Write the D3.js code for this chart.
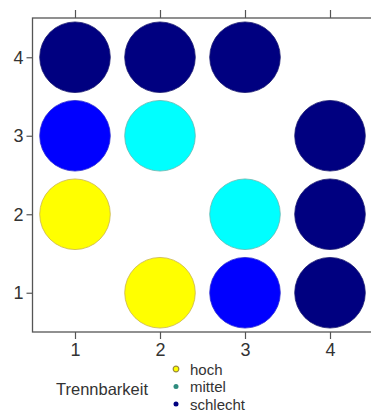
<!DOCTYPE html>
<html><head><meta charset="utf-8">
<script src="https://cdn.jsdelivr.net/npm/d3@7"></script>
<style>body{margin:0;background:#fff;} svg{display:block;font-family:"Liberation Sans",Arial,sans-serif;}</style>
</head><body>
<svg id="c" width="371" height="411"></svg>
<script>
const xTicks = [1, 2, 3, 4];
const yTicks = [1, 2, 3, 4];
const pointX = [1, 2, 3, 1, 2, 4, 1, 3, 4, 2, 3, 4];
const pointY = [4, 4, 4, 3, 3, 3, 2, 2, 2, 1, 1, 1];
const pointCol = ["#000080","#000080","#000080","#0000ff","#00ffff","#000080","#ffff00","#00ffff","#000080","#ffff00","#0000ff","#000080"];
const legendLabels = ["hoch", "mittel", "schlecht"];
const legendColors = ["#ffff00", "#2e8b7e", "#000080"];
const legendTitle = "Trennbarkeit";

const svg = d3.select("#c");
const x = d3.scaleLinear().domain([0.5, 4.5]).range([32.5, 372.5]);
const y = d3.scaleLinear().domain([0.5, 4.5]).range([332, 18]);
const strokeFor = c => c === "#ffff00" ? "#c9b44c" : c === "#00ffff" ? "#62b8b0" : c === "#0000ff" ? "#2a2ad0" : "#1a1a70";

svg.selectAll("circle.pt").data(pointX.map((d,i)=>({x:d,y:pointY[i],c:pointCol[i]})))
  .enter().append("circle").attr("class","pt")
  .attr("cx", d=>x(d.x)).attr("cy", d=>y(d.y)).attr("r", 35.3)
  .attr("fill", d=>d.c).attr("stroke", d=>strokeFor(d.c)).attr("stroke-width", 0.8);

// box
svg.append("rect").attr("x", x(0.5)).attr("y", y(4.5)).attr("width", x(4.5)-x(0.5)).attr("height", y(0.5)-y(4.5))
  .attr("fill","none").attr("stroke","#555").attr("stroke-width",1.3);

const styleAxis = g => {
  g.select(".domain").remove();
  g.selectAll(".tick line").attr("stroke","#555").attr("stroke-width",1.2);
  g.selectAll(".tick text").attr("fill","#333").attr("font-size","18px");
};
svg.append("g").attr("transform",`translate(0,${y(0.5)})`)
  .call(d3.axisBottom(x).tickValues(xTicks).tickSize(7).tickPadding(4).tickFormat(d3.format("d"))).call(styleAxis);
svg.append("g").attr("transform",`translate(0,${y(4.5)})`)
  .call(d3.axisTop(x).tickValues(xTicks).tickSize(8).tickFormat("")).call(styleAxis);
svg.append("g").attr("transform",`translate(${x(0.5)},0)`)
  .call(d3.axisLeft(y).tickValues(yTicks).tickSize(6).tickPadding(3).tickFormat(d3.format("d"))).call(styleAxis);

// legend
svg.append("text").attr("x", 56).attr("y", 395).attr("font-size","16.5px").attr("fill","#333").text(legendTitle);
const lg = svg.selectAll("g.lg").data(legendLabels).enter().append("g").attr("class","lg")
  .attr("transform",(d,i)=>`translate(176,${369 + i*17.5})`);
lg.append("circle").attr("r",(d,i)=> i===0?2.8:2.5).attr("fill",(d,i)=>legendColors[i])
  .attr("stroke",(d,i)=> i===0?"#9a8a3a":"none").attr("stroke-width",1.2);
lg.append("text").attr("x",14).attr("y",5.5).attr("font-size","15px").attr("fill","#333").text(d=>d);
</script>
</body></html>
